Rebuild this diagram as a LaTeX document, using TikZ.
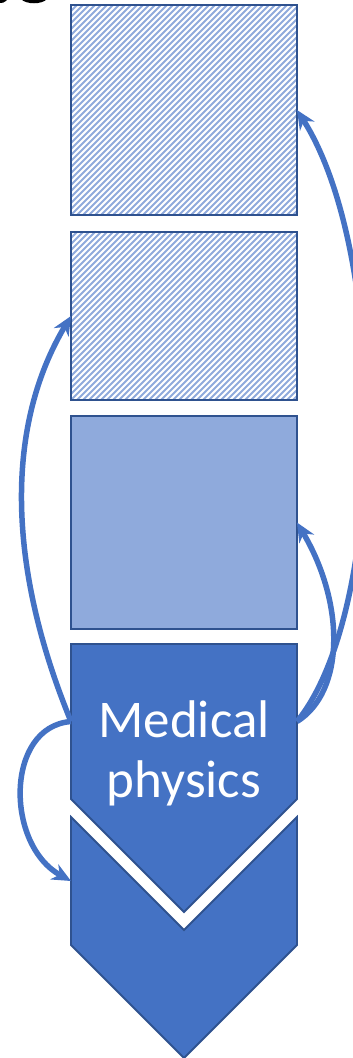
\documentclass[tikz,border=0pt]{standalone}
\usepackage{fontspec}
\setmainfont{Carlito}
\usetikzlibrary{arrows.meta, positioning, calc, backgrounds}
\definecolor{accBlue}{HTML}{4472C4}
\definecolor{accDark}{HTML}{2F528F}
\definecolor{accLight}{HTML}{8FAADC}
\tikzset{
    >=Stealth,
    % Shapes
    block/.style={rectangle, line width=2.5pt, draw=accDark, outer sep=0pt, inner sep=0pt,
                  minimum width=226pt, anchor=north},
    band/.style={rectangle, outer sep=0pt, inner sep=0pt, minimum width=226pt, anchor=north},
    chevron/.style={fill=accBlue, draw=accDark, line width=1.8pt, line join=miter},
    hatch/.style={accLight, line width=1.8pt},
    % Flow & Labels
    link/.style={-{Stealth[length=19pt, width=17pt]}, line width=5.5pt, accBlue},
    lbl/.style={text=white, align=center, font=\fontsize{53}{60}\selectfont}
}

\begin{document}
\begin{tikzpicture}[x=1pt, y=-1pt, node distance=17pt]
\useasboundingbox (0,0) rectangle (353,1058);

% cut-off text at the top
\draw[line width=3pt] (-2,1.5) .. controls (3,1.5) .. (7,-2);
\draw[line width=3pt] (22,-2) .. controls (27,3) and (41,3) .. (46,-2);

% Stack
\node[block, minimum height=210pt] (box1) at (184,5) {};
\node[block, minimum height=168pt, below=of box1] (box2) {};
\node[block, fill=accLight, minimum height=213pt, below=16pt of box2] (box3) {};
\node[band, minimum height=155pt, below=15pt of box3] (chev1) {};
\node[band, minimum height=128pt, below=18pt of chev1] (chev2) {};

\draw[chevron] (chev1.north west) -- (chev1.north east) -- (chev1.south east)
    -- ($(chev1.south)+(0,113)$) -- (chev1.south west) -- cycle;
\draw[chevron] (chev2.north west) -- ($(chev2.north)+(0,113)$) -- (chev2.north east)
    -- (chev2.south east) -- ($(chev2.south)+(0,113)$) -- (chev2.south west) -- cycle;

\node[lbl] (med) at (184,753) {Medical\\physics};

% Hatching
\begin{scope}[on background layer]
\foreach \b in {box1,box2} {
  \begin{scope}
    \clip (\b.north west) rectangle (\b.south east);
    \foreach \i in {-216,-210,...,232}
      \draw[hatch] ($(\b.south west)+(\i,0)$) -- ++(230,-230);
  \end{scope}
}
\end{scope}

% Links
\draw[link] (chev1.west) .. controls +(-65,-158) and +(-65,109) .. (box2.west);
\draw[link] (chev1.west) .. controls +(-66,5) and +(-66,-36) .. (chev2.west);
\draw[link] (chev1.east) .. controls +(48,-30) and +(48,81) .. (box3.east);
\draw[link] (chev1.east) .. controls +(90,-110) and +(92,145) .. (box1.east);

\end{tikzpicture}
\end{document}
